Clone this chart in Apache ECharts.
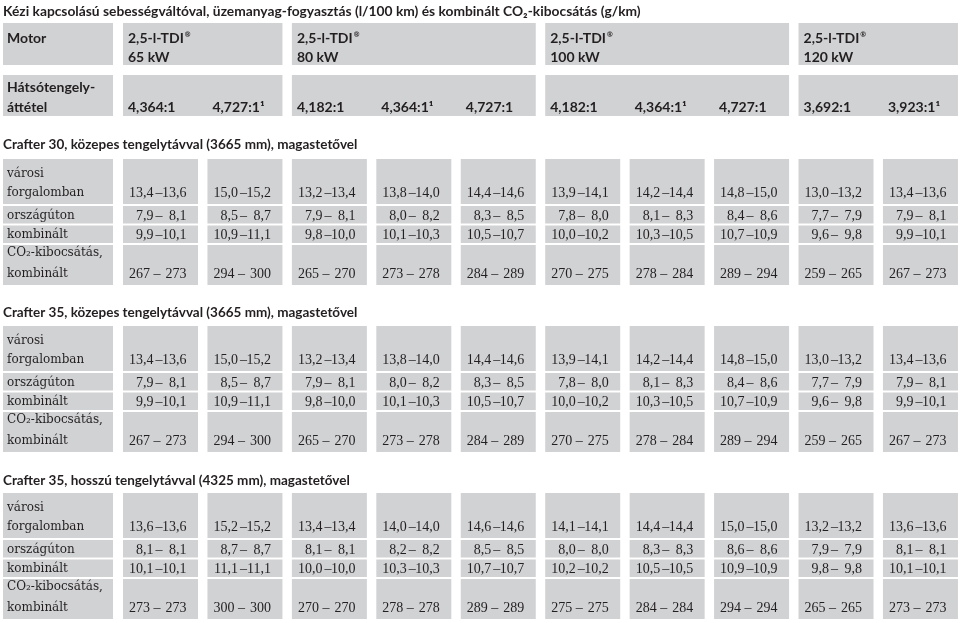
<!DOCTYPE html>
<html><head><meta charset="utf-8">
<script src="https://cdn.jsdelivr.net/npm/echarts@6/dist/echarts.min.js"></script>
<style>html,body{margin:0;padding:0;background:#fff}#c{width:960px;height:623px}</style>
</head><body><div id="c"></div>
<script>
// ---------- data ----------
const chartTitle = 'Kézi kapcsolású sebességváltóval, üzemanyag-fogyasztás (l/100 km) és kombinált CO₂-kibocsátás (g/km)';
const motorLabel = 'Motor';
const motorNames = ['2,5-l-TDI', '2,5-l-TDI', '2,5-l-TDI', '2,5-l-TDI'];
const motorPowers = ['65 kW', '80 kW', '100 kW', '120 kW'];
const motorSpans = [2, 3, 3, 2];
const axleLabel = ['Hátsótengely-', 'áttétel'];
const axleRatios = ['4,364:1', '4,727:1¹', '4,182:1', '4,364:1¹', '4,727:1', '4,182:1', '4,364:1¹', '4,727:1', '3,692:1', '3,923:1¹'];
const rowLabels = [['városi', 'forgalomban'], ['országúton'], ['kombinált'], ['CO₂-kibocsátás,', 'kombinált']];
const sectionTitles = [
  'Crafter 30, közepes tengelytávval (3665 mm), magastetővel',
  'Crafter 35, közepes tengelytávval (3665 mm), magastetővel',
  'Crafter 35, hosszú tengelytávval (4325 mm), magastetővel'
];
// Crafter 30, közepes tengelytáv
const c30City  = [[13.4,13.6],[15.0,15.2],[13.2,13.4],[13.8,14.0],[14.4,14.6],[13.9,14.1],[14.2,14.4],[14.8,15.0],[13.0,13.2],[13.4,13.6]];
const c30Road  = [[7.9,8.1],[8.5,8.7],[7.9,8.1],[8.0,8.2],[8.3,8.5],[7.8,8.0],[8.1,8.3],[8.4,8.6],[7.7,7.9],[7.9,8.1]];
const c30Comb  = [[9.9,10.1],[10.9,11.1],[9.8,10.0],[10.1,10.3],[10.5,10.7],[10.0,10.2],[10.3,10.5],[10.7,10.9],[9.6,9.8],[9.9,10.1]];
const c30CO2   = [[267,273],[294,300],[265,270],[273,278],[284,289],[270,275],[278,284],[289,294],[259,265],[267,273]];
// Crafter 35, közepes tengelytáv
const c35mCity = [[13.4,13.6],[15.0,15.2],[13.2,13.4],[13.8,14.0],[14.4,14.6],[13.9,14.1],[14.2,14.4],[14.8,15.0],[13.0,13.2],[13.4,13.6]];
const c35mRoad = [[7.9,8.1],[8.5,8.7],[7.9,8.1],[8.0,8.2],[8.3,8.5],[7.8,8.0],[8.1,8.3],[8.4,8.6],[7.7,7.9],[7.9,8.1]];
const c35mComb = [[9.9,10.1],[10.9,11.1],[9.8,10.0],[10.1,10.3],[10.5,10.7],[10.0,10.2],[10.3,10.5],[10.7,10.9],[9.6,9.8],[9.9,10.1]];
const c35mCO2  = [[267,273],[294,300],[265,270],[273,278],[284,289],[270,275],[278,284],[289,294],[259,265],[267,273]];
// Crafter 35, hosszú tengelytáv
const c35lCity = [[13.6,13.6],[15.2,15.2],[13.4,13.4],[14.0,14.0],[14.6,14.6],[14.1,14.1],[14.4,14.4],[15.0,15.0],[13.2,13.2],[13.6,13.6]];
const c35lRoad = [[8.1,8.1],[8.7,8.7],[8.1,8.1],[8.2,8.2],[8.5,8.5],[8.0,8.0],[8.3,8.3],[8.6,8.6],[7.9,7.9],[8.1,8.1]];
const c35lComb = [[10.1,10.1],[11.1,11.1],[10.0,10.0],[10.3,10.3],[10.7,10.7],[10.2,10.2],[10.5,10.5],[10.9,10.9],[9.8,9.8],[10.1,10.1]];
const c35lCO2  = [[273,273],[300,300],[270,270],[278,278],[289,289],[275,275],[284,284],[294,294],[265,265],[273,273]];

const sections = [
  [c30City, c30Road, c30Comb, c30CO2],
  [c35mCity, c35mRoad, c35mComb, c35mCO2],
  [c35lCity, c35lRoad, c35lComb, c35lCO2]
];

// ---------- layout / style ----------
const GRAY = '#d1d2d4', INK = '#231f20';
const SANS = 'Lato, "DejaVu Sans", sans-serif';
const F_HEAD = 'bold 14px ' + SANS;
const F_LBL = '12px "DejaVu Serif", serif';
const F_NUM = '14px "Liberation Serif", serif';
const LAY = {
  colX0: 123, colStep: 84.44, colW: 75, lblX0: 3, lblX1: 113,
  motorY: [23, 65], axleY: [75, 116],
  tableTops: [159, 326, 493],
  sectionTitleY: [145, 313, 481],
  rows: [[0, 45], [47, 64.5], [66.5, 84], [86, 126]],
  textY: [[15, 34], [57], [76], [94, 115]]
};
function colX(c) { return LAY.colX0 + c * LAY.colStep; }
function fmt(v, dec) { return dec ? v.toFixed(1).replace('.', ',') : String(v); }
function rect(api, x0, y0, x1, y1) {
  const p0 = api.coord([x0, y0]), p1 = api.coord([x1, y1]);
  return { type: 'rect', shape: { x: p0[0], y: p0[1], width: p1[0] - p0[0], height: p1[1] - p0[1] }, style: { fill: GRAY } };
}
function txt(api, x, y, text, font, align, extra) {
  const p = api.coord([x, y]);
  return { type: 'text', x: p[0], y: p[1], style: Object.assign({ text: text, font: font, fill: INK, align: align || 'left', verticalAlign: 'middle' }, extra || {}) };
}

// header items: [kind, index]  kind 0 = motor row, 1 = axle row
const headerData = [];
headerData.push([0, -1]);
motorNames.forEach((_, i) => headerData.push([0, i]));
headerData.push([1, -1]);
axleRatios.forEach((_, i) => headerData.push([1, i]));

function groupStart(g) { let s = 0; for (let i = 0; i < g; i++) s += motorSpans[i]; return s; }

function renderHeader(params, api) {
  const kind = api.value(0), idx = api.value(1);
  const ys = kind === 0 ? LAY.motorY : LAY.axleY;
  const ch = [];
  if (idx === -1) {
    ch.push(rect(api, LAY.lblX0, ys[0], LAY.lblX1, ys[1]));
    if (kind === 0) ch.push(txt(api, 7, 38, motorLabel, F_HEAD));
    else { ch.push(txt(api, 7, 87, axleLabel[0], F_HEAD)); ch.push(txt(api, 7, 107, axleLabel[1], F_HEAD)); }
    return { type: 'group', children: ch };
  }
  if (kind === 0) {
    const s = groupStart(idx), e = s + motorSpans[idx] - 1;
    ch.push(rect(api, colX(s), ys[0], colX(e) + LAY.colW, ys[1]));
    ch.push(txt(api, colX(s) + 5, 38, '{n|' + motorNames[idx] + '}{s|®}', F_HEAD, 'left', {
      rich: { n: { font: F_HEAD, fill: INK }, s: { font: 'bold 7px ' + SANS, fill: INK, verticalAlign: 'top', padding: [0, 0, 6, 1] } }
    }));
    ch.push(txt(api, colX(s) + 5, 57, motorPowers[idx], F_HEAD));
  } else {
    let g = 0, acc = 0;
    while (acc + motorSpans[g] <= idx) { acc += motorSpans[g]; g++; }
    if (idx === acc) {
      const e = acc + motorSpans[g] - 1;
      ch.push(rect(api, colX(acc), ys[0], colX(e) + LAY.colW, ys[1]));
    }
    ch.push(txt(api, colX(idx) + 5, 107, axleRatios[idx], F_HEAD));
  }
  return { type: 'group', children: ch };
}

// table items: [section, row, col, low, high]
const tableData = [];
sections.forEach((sec, s) => {
  sec.forEach((rowVals, r) => {
    tableData.push([s, r, -1, 0, 0]);
    rowVals.forEach((pair, c) => tableData.push([s, r, c, pair[0], pair[1]]));
  });
});

function renderTable(params, api) {
  const s = api.value(0), r = api.value(1), c = api.value(2);
  const T = LAY.tableTops[s];
  const y0 = T + LAY.rows[r][0], y1 = T + LAY.rows[r][1];
  const ty = LAY.textY[r];
  const ch = [];
  if (c === -1) {
    ch.push(rect(api, LAY.lblX0, y0, LAY.lblX1, y1));
    rowLabels[r].forEach((line, k) => ch.push(txt(api, 7, T + ty[k], line, F_LBL)));
    return { type: 'group', children: ch };
  }
  const x0 = colX(c);
  ch.push(rect(api, x0, y0, x0 + LAY.colW, y1));
  const dec = r < 3;
  const yv = T + ty[ty.length - 1];
  ch.push(txt(api, x0 + (dec ? 30.5 : 27), yv, fmt(api.value(3), dec), F_NUM, 'right'));
  ch.push(txt(api, x0 + (dec ? 36 : 34), yv, '–', F_NUM, 'center'));
  ch.push(txt(api, x0 + 63.5, yv, fmt(api.value(4), dec), F_NUM, 'right'));
  return { type: 'group', children: ch };
}

const titleStyle = (size) => ({ fontFamily: SANS, fontWeight: 'bold', fontSize: size, color: INK });
const titles = [{ text: chartTitle, left: 3, top: 12 - 7, padding: 0, textStyle: titleStyle(13.8) }];
sectionTitles.forEach((t, i) => titles.push({ text: t, left: 3, top: LAY.sectionTitleY[i] - 7, padding: 0, textStyle: titleStyle(13.5) }));

const chart = echarts.init(document.getElementById('c'));
chart.setOption({
  backgroundColor: '#fff',
  animation: false,
  title: titles,
  grid: { left: 0, right: 0, top: 0, bottom: 0 },
  xAxis: { type: 'value', min: 0, max: 960, show: false },
  yAxis: { type: 'value', min: 0, max: 623, inverse: true, show: false },
  series: [
    { type: 'custom', renderItem: renderHeader, data: headerData, encode: { x: -1, y: -1 }, silent: true },
    { type: 'custom', renderItem: renderTable, data: tableData, encode: { x: -1, y: -1 }, silent: true }
  ]
});
</script>
</body></html>
